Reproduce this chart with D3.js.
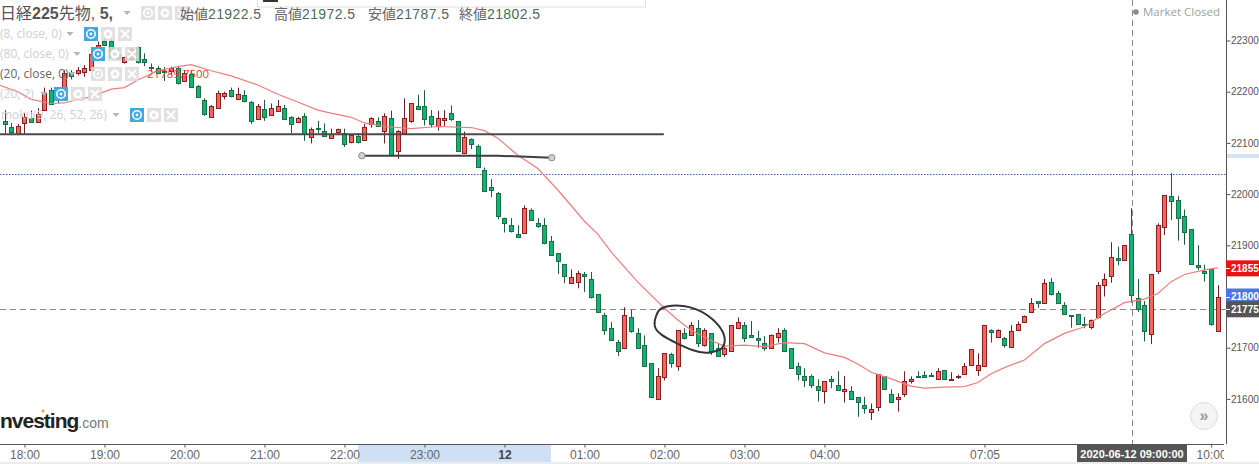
<!DOCTYPE html>
<html>
<head>
<meta charset="utf-8">
<script src="https://cdn.jsdelivr.net/npm/d3@7"></script>
<style>
  html, body { margin: 0; padding: 0; background: #fff; overflow: hidden; }
</style>
</head>
<body>
<div id="chart"></div>
<script>
// OHLC of the 5 minute bars. Bar 0 is the leftmost one.
const opens = [
  22143,22132,22117,22138,22148,22141,22164,22203,22188,22208,
  22238,22236,22238,22241,22275,22300,22300,22274,22257,22263,
  22287,22263,22249,22246,22241,22241,22247,22221,22234,22212,
  22183,22151,22168,22192,22203,22186,22193,22180,22147,22167,
  22155,22164,22169,22151,22141,22152,22113,22130,22123,22111,
  22123,22119,22101,22113,22107,22136,22142,22123,22148,22084,
  22119,22142,22173,22173,22152,22132,22145,22158,22142,22080,
  22107,22093,22048,22013,22003,21953,21939,21923,21923,21968,
  21943,21939,21908,21884,21863,21828,21828,21843,21834,21804,
  21763,21738,21711,21699,21759,21728,21705,21670,21599,21642,
  21687,21664,21728,21724,21738,21705,21728,21699,21687,21693,
  21738,21744,21724,21718,21709,21699,21720,21734,21699,21664,
  21644,21644,21625,21615,21639,21628,21615,21615,21603,21589,
  21574,21584,21644,21609,21599,21609,21636,21644,21646,21646,
  21638,21656,21636,21642,21648,21666,21656,21664,21735,21720,
  21718,21701,21734,21750,21769,21791,21787,21828,21806,21783,
  21763,21765,21746,21742,21759,21822,21841,21876,21871,21922.5,
  21798,21783,21726,21849,21935,21996,21988,21957,21931,21861,
  21849,21853,21734
];
const highs = [
  22164,22139,22137,22158,22163,22168,22208,22208,22203,22242,
  22242,22248,22252,22275,22298,22304,22302,22285,22268,22286,
  22288,22275,22255,22250,22248,22249,22249,22242,22242,22213,
  22187,22174,22202,22200,22208,22208,22203,22182,22176,22184,
  22177,22184,22174,22152,22151,22158,22130,22143,22138,22128,
  22128,22128,22117,22119,22137,22150,22150,22158,22163,22125,
  22187,22178,22194,22203,22164,22163,22164,22173,22142,22122,
  22109,22097,22052,22029,22004,21954,21953,21939,21978,21972,
  21953,21953,21918,21885,21863,21853,21850,21848,21848,21804,
  21768,21750,21715,21779,21774,21738,21724,21670,21660,21689,
  21690,21734,21738,21750,21754,21738,21728,21709,21725,21744,
  21759,21750,21752,21733,21723,21726,21738,21738,21699,21671,
  21660,21648,21638,21634,21645,21654,21645,21625,21603,21604,
  21591,21648,21644,21619,21611,21654,21644,21654,21654,21651,
  21660,21656,21652,21647,21670,21697,21689,21744,21736,21736,
  21721,21744,21751,21763,21797,21791,21834,21836,21811,21789,
  21763,21765,21760,21755,21828,21845,21906,21897,21900,21972.5,
  21834,21791,21843,21943,21998,22041,21996,21970,21931,21900,
  21862,21853,21822
];
const lows = [
  22119,22115,22115,22117,22141,22141,22162,22176,22178,22207,
  22224,22232,22229,22240,22272,22291,22267,22262,22255,22262,
  22255,22250,22239,22234,22221,22232,22214,22219,22208,22189,
  22153,22149,22166,22185,22189,22186,22179,22137,22145,22143,
  22154,22162,22146,22119,22139,22104,22099,22119,22112,22109,
  22115,22092,22099,22099,22104,22130,22132,22099,22074,22069,
  22117,22139,22168,22134,22130,22124,22133,22143,22082,22078,
  22088,22052,22007,21994,21951,21925,21925,21916,21922,21948,
  21934,21902,21880,21844,21826,21826,21816,21809,21796,21768,
  21725,21714,21684,21697,21729,21697,21663,21602,21598,21636,
  21661,21655,21716,21723,21701,21702,21686,21682,21682,21692,
  21737,21711,21720,21700,21694,21698,21710,21692,21659,21636,
  21623,21621,21595,21591,21621,21618,21593,21598,21565,21571,
  21559,21576,21618,21593,21575,21604,21630,21641,21643,21643,
  21637,21637,21636,21639,21647,21665,21645,21663,21710,21720,
  21700,21700,21733,21748,21768,21778,21786,21802,21786,21764,
  21739,21745,21738,21736,21757,21800,21827,21861,21870,21787.5,
  21770,21712,21707,21844,21920,21949,21909,21901,21862,21852,
  21829,21743,21733
];
const closes = [
  22137,22122,22133,22150,22141,22156,22197,22176,22199,22236,
  22231,22242,22246,22273,22292,22292,22268,22266,22267,22283,
  22258,22257,22247,22237,22240,22246,22218,22237,22208,22190,
  22156,22173,22197,22197,22192,22195,22182,22142,22173,22151,
  22168,22173,22147,22137,22149,22117,22128,22128,22113,22118,
  22128,22097,22115,22102,22132,22148,22132,22152,22076,22123,
  22148,22177,22168,22148,22136,22148,22148,22147,22084,22111,
  22097,22052,22007,22007,21958,21943,21927,21917,21972,21949,
  21938,21904,21880,21869,21839,21839,21845,21839,21798,21769,
  21734,21714,21693,21763,21732,21699,21664,21603,21644,21689,
  21670,21734,21718,21744,21709,21734,21693,21683,21699,21744,
  21750,21718,21720,21714,21700,21724,21728,21693,21660,21648,
  21636,21627,21617,21634,21636,21619,21619,21599,21593,21584,
  21580,21648,21619,21593,21603,21634,21639,21642,21643,21644,
  21654,21638,21638,21644,21664,21697,21666,21744,21732,21734,
  21705,21732,21746,21761,21787,21787,21826,21804,21787,21765,
  21761,21746,21744,21755,21822,21834,21878,21873,21900,21802.5,
  21777,21733,21843,21939,21998,21986,21953,21925,21863,21858,
  21845,21745,21800
];

// moving average (20, close), sampled along the line
const maBars = [-1,2,4,7,9,11,13,16,18,20,23,26,28,31,34,38,41,44,47,49,52,54,57,61,65,70,72,74,77,80,83,87,89,91,95,99,101,103,106,108,111,114,117,120,123,126,128,130,133,136,138,141,144,146,148,150,153,156,159,162,165,168,171,173,175,177,180,182];
const maValues = [22214,22200,22185,22177,22178,22185,22190,22205,22208,22223,22241,22249,22253,22241,22231,22213,22195,22180,22164,22158,22150,22139,22132,22128,22132,22130,22124,22109,22076,22050,22008,21947,21922,21887,21828,21777,21754,21734,21714,21703,21705,21702,21710,21708,21690,21681,21668,21652,21639,21625,21621,21623,21624,21632,21649,21661,21676,21708,21728,21741,21767,21788,21795,21806,21829,21843,21852,21856];

// axis ticks
const priceTicks = [22300, 22200, 22100, 22000, 21900, 21800, 21700, 21600];
const timeBars = [3, 15, 27, 39, 51, 63, 75, 87, 99, 111, 123, 147, 181];
const timeLabels = ["18:00","19:00","20:00","21:00","22:00","23:00","12","01:00","02:00","03:00","04:00","07:05","10:00"];

// hand drawn lines on the chart
const supportBars = [-1, 98.9];
const supportPrices = [22117, 22117];
const trendBars = [53.6, 73.9, 82.1];
const trendPrices = [22075, 22075, 22071];
const loopBars = [98.6,101.3,104.3,106.8,108,107.6,106.3,105.2,103.3,100.8,98.6,97.6,97.7];
const loopPrices = [21777,21782,21772,21748,21721,21699,21692,21690,21695,21709,21725,21740,21760];
const levelPrice = 22039;

// price tags and crosshair
const tagPrices = [21855, 21800, 21775];
const crossBar = 169;
const crossPrice = 21775;
const crossTime = "2020-06-12 09:00:00";

const width = 1259;
const height = 464;
const axisX = 1226;
const axisY = 444;
const sansFont = '"Liberation Sans", "Noto Sans CJK JP", Arial, sans-serif';
const uiFont = '"Open Sans", "Noto Sans", sans-serif';

const svg = d3.select("#chart")
  .append("svg")
  .attr("width", width)
  .attr("height", height)
  .style("display", "block")
  .style("background-color", "white");

const x = d3.scaleLinear().domain([0, 182]).range([4.5, 1217.8]);
const y = d3.scaleLinear().domain([21600, 22300]).range([398.9, 40.5]);

svg.append("defs").append("clipPath").attr("id", "plot")
  .append("rect").attr("width", axisX).attr("height", axisY);
svg.append("defs").append("clipPath").attr("id", "timeStrip")
  .append("rect").attr("y", axisY).attr("width", 1224).attr("height", 20);

// Faixa inferior e destaques dos eixos
svg.append("rect").attr("x", 0).attr("y", 462).attr("width", width).attr("height", 2).attr("fill", "#ececec");
svg.append("rect").attr("x", 358).attr("y", axisY).attr("width", 193).attr("height", 18).attr("fill", "#cfdff5");
svg.append("rect").attr("x", axisX).attr("y", 154).attr("width", width - axisX).attr("height", 4).attr("fill", "#d5e3f3");

const plot = svg.append("g").attr("clip-path", "url(#plot)");

// Eixo de preços
const yAxis = svg.append("g")
  .attr("transform", `translate(${axisX + 0.5},0)`)
  .call(d3.axisRight(y).tickValues(priceTicks).tickFormat(d3.format("d")).tickSize(4).tickPadding(0.5));
yAxis.select(".domain").attr("stroke", "#555").attr("d", `M0,0V${axisY}`);
yAxis.selectAll("line").attr("stroke", "#555");
yAxis.selectAll("text")
  .attr("fill", "#555")
  .style("font-family", sansFont)
  .style("font-size", "10px");

// Eixo de tempo
const xAxis = svg.append("g")
  .attr("clip-path", "url(#timeStrip)")
  .append("g")
  .attr("transform", `translate(0,${axisY + 0.5})`)
  .call(d3.axisBottom(x).tickValues(timeBars).tickFormat((d, i) => timeLabels[i]).tickSize(3).tickPadding(3));
xAxis.select(".domain").attr("stroke", "#555").attr("d", `M0,0H${axisX}`);
xAxis.selectAll("line").attr("stroke", "#555");
xAxis.selectAll("text")
  .attr("fill", d => d === 75 ? "#444" : "#666")
  .style("font-family", sansFont)
  .style("font-size", "12px")
  .style("font-weight", d => d === 75 ? "bold" : "normal");

// Linhas de nível
plot.append("line")
  .attr("x1", 0).attr("x2", axisX)
  .attr("y1", Math.round(y(levelPrice)) + 0.5).attr("y2", Math.round(y(levelPrice)) + 0.5)
  .attr("stroke", "#3b62a8").attr("stroke-dasharray", "1.5,1.5");
plot.append("line")
  .attr("x1", 0).attr("x2", axisX)
  .attr("y1", Math.round(y(crossPrice)) + 0.5).attr("y2", Math.round(y(crossPrice)) + 0.5)
  .attr("stroke", "#8a8a8a").attr("stroke-dasharray", "6,4");
plot.append("line")
  .attr("x1", Math.round(x(crossBar)) + 1.5).attr("x2", Math.round(x(crossBar)) + 1.5)
  .attr("y1", 0).attr("y2", axisY)
  .attr("stroke", "#8a8a8a").attr("stroke-dasharray", "6,4");

// Velas
const candles = d3.range(opens.length).map(i => ({
  i, open: opens[i], high: highs[i], low: lows[i], close: closes[i]
}));
const isUp = d => d.close > d.open;

plot.selectAll(".wick")
  .data(candles)
  .enter()
  .append("line")
  .attr("class", "wick")
  .attr("x1", d => Math.round(x(d.i)) + 0.5)
  .attr("x2", d => Math.round(x(d.i)) + 0.5)
  .attr("y1", d => y(d.high))
  .attr("y2", d => y(d.low))
  .attr("stroke", d => isUp(d) ? "#6e2020" : "#1c5c3e");

plot.selectAll(".body")
  .data(candles)
  .enter()
  .append("rect")
  .attr("class", "body")
  .attr("x", d => Math.round(x(d.i)) - 1.5)
  .attr("y", d => Math.round(y(Math.max(d.open, d.close))) + 0.5)
  .attr("width", 4)
  .attr("height", d => Math.max(1, Math.round(y(Math.min(d.open, d.close)) - y(Math.max(d.open, d.close)))))
  .attr("fill", d => isUp(d) ? "#f4665c" : "#0fb46e")
  .attr("stroke", d => isUp(d) ? "#8a1f22" : "#1a6e48");

// Média móvel
const lineByBar = d3.line().x(d => x(d[0])).y(d => y(d[1]));
plot.append("path")
  .datum(d3.zip(maBars, maValues))
  .attr("d", lineByBar)
  .attr("fill", "none")
  .attr("stroke", "#ee7d7d")
  .attr("stroke-width", 1.2);

// Desenhos à mão
plot.append("path")
  .datum(d3.zip(supportBars, supportPrices))
  .attr("d", lineByBar)
  .attr("fill", "none")
  .attr("stroke", "#4a4a4a")
  .attr("stroke-width", 2);
plot.append("path")
  .datum(d3.zip(trendBars, trendPrices))
  .attr("d", lineByBar)
  .attr("fill", "none")
  .attr("stroke", "#3f3f3f")
  .attr("stroke-width", 2);
plot.selectAll(".handle")
  .data([0, trendBars.length - 1])
  .enter()
  .append("circle")
  .attr("class", "handle")
  .attr("cx", d => x(trendBars[d]))
  .attr("cy", d => y(trendPrices[d]))
  .attr("r", 3.2)
  .attr("fill", "#d2d2d2")
  .attr("stroke", "#8c8c8c");
plot.append("path")
  .datum(d3.zip(loopBars, loopPrices))
  .attr("d", d3.line().x(d => x(d[0])).y(d => y(d[1])).curve(d3.curveCardinalClosed))
  .attr("fill", "none")
  .attr("stroke", "#33343a")
  .attr("stroke-width", 2);

// Ícones dos indicadores
function drawIcons(left, top, activeEye) {
  const size = 14;
  [0, 17, 34].forEach((dx, k) => {
    const g = svg.append("g").attr("transform", `translate(${left + dx},${top})`);
    const blue = k === 0 && activeEye;
    g.append("rect").attr("width", size).attr("height", size)
      .attr("fill", blue ? "#3fa9e0" : "#dcdcdc").attr("opacity", blue ? 1 : 0.85);
    if (k === 0) {
      g.append("circle").attr("cx", 7).attr("cy", 7).attr("r", 4.2)
        .attr("fill", "none").attr("stroke", "white").attr("stroke-width", 1.6);
      g.append("circle").attr("cx", 7).attr("cy", 7).attr("r", 1.4).attr("fill", "white");
    } else if (k === 1) {
      g.append("circle").attr("cx", 7).attr("cy", 7).attr("r", 3.2)
        .attr("fill", "none").attr("stroke", "white").attr("stroke-width", 2.6);
    } else {
      g.append("path").attr("d", "M3,3L11,11M11,3L3,11").attr("stroke", "white").attr("stroke-width", 2);
    }
  });
}

function drawCaret(cx, cy) {
  svg.append("path")
    .attr("d", `M${cx - 3.5},${cy - 2}L${cx + 3.5},${cy - 2}L${cx},${cy + 2}Z`)
    .attr("fill", "#b5b5b5");
}

// Etiquetas dos indicadores
const indicatorLabels = ["(8, close, 0)", "(80, close, 0)", "(20, close, 0)", "(20, 2)", "moku(9, 26, 52, 26)"];
const indicatorY = [38, 58, 78, 98, 119];
const indicatorColors = ["#cfcfcf", "#cfcfcf", "#666", "#cfcfcf", "#cfcfcf"];
const indicatorIconX = [84, 91, 91, 54, 130];
const indicatorCaretX = [70, 77, 72, 44, 116];
const indicatorEye = [true, true, false, true, true];

indicatorLabels.forEach((label, k) => {
  svg.append("text")
    .attr("x", k === 4 ? 1 : 0)
    .attr("y", indicatorY[k])
    .attr("fill", indicatorColors[k])
    .style("font-family", uiFont)
    .style("font-size", "12px")
    .text(label);
  drawCaret(indicatorCaretX[k], indicatorY[k] - 4);
  drawIcons(indicatorIconX[k], indicatorY[k] - 11, indicatorEye[k]);
});

svg.append("text")
  .attr("x", 147).attr("y", 78)
  .attr("fill", "#ee3b3b")
  .style("font-family", uiFont)
  .style("font-size", "11.5px")
  .text("21789.7500");

// Cabeçalho
svg.append("rect").attr("x", 257.5).attr("y", -2).attr("width", 388).attr("height", 9)
  .attr("fill", "white").attr("stroke", "#dedede");
svg.append("rect").attr("x", 263).attr("y", 0).attr("width", 15).attr("height", 2).attr("fill", "#333");

const title = svg.append("text")
  .attr("x", 0).attr("y", 19)
  .attr("fill", "#555")
  .style("font-family", sansFont)
  .style("font-size", "16px");
title.append("tspan").text("日経");
title.append("tspan").style("font-weight", "bold").text("225");
title.append("tspan").text("先物, ");
title.append("tspan").style("font-weight", "bold").text("5,");
drawCaret(127, 13);
drawIcons(141, 6, false);

const ohlcLabels = ["始値", "高値", "安値", "終値"];
const ohlcValues = ["21922.5", "21972.5", "21787.5", "21802.5"];
const ohlcX = [180, 274, 368, 459];
ohlcLabels.forEach((label, k) => {
  const t = svg.append("text")
    .attr("x", ohlcX[k]).attr("y", 19)
    .style("font-family", sansFont)
    .style("font-size", "14px");
  t.append("tspan").attr("fill", "#666").text(label);
  t.append("tspan").attr("fill", "#4f6a5c").style("letter-spacing", "0.4px").text(ohlcValues[k]);
});

// Market Closed
svg.append("circle").attr("cx", 1136).attr("cy", 12).attr("r", 2.8).attr("fill", "#8a8a8a");
svg.append("text")
  .attr("x", 1143).attr("y", 16)
  .attr("fill", "#a0a0a0")
  .style("font-family", uiFont)
  .style("font-size", "11.5px")
  .text("Market Closed");

// Logo
const logo = svg.append("text")
  .attr("x", 0).attr("y", 428)
  .style("font-family", sansFont);
logo.append("tspan").attr("fill", "#222").style("font-size", "21px").style("font-weight", "bold").style("letter-spacing", "-1px").text("nvesting");
logo.append("tspan").attr("fill", "#777").style("font-size", "14px").text(".com");
svg.append("circle").attr("cx", 43).attr("cy", 411).attr("r", 1.6).attr("fill", "#f2a81d");

// Botão de rolagem
svg.append("circle").attr("cx", 1204).attr("cy", 416).attr("r", 13.5).attr("fill", "#f4f4f4").attr("stroke", "#dcdcdc");
svg.append("text")
  .attr("x", 1204).attr("y", 421)
  .attr("text-anchor", "middle")
  .attr("fill", "#9a9a9a")
  .style("font-family", sansFont)
  .style("font-size", "16px")
  .style("font-weight", "bold")
  .text("»");

// Etiquetas de preço
const tagColors = ["#ee1111", "#4a78dc", "#555555"];
tagPrices.forEach((price, k) => {
  const cy = y(price);
  svg.append("rect")
    .attr("x", axisX).attr("y", cy - 8)
    .attr("width", width - axisX).attr("height", 16)
    .attr("fill", tagColors[k]);
  svg.append("line")
    .attr("x1", axisX).attr("x2", axisX + 4)
    .attr("y1", Math.round(cy) + 0.5).attr("y2", Math.round(cy) + 0.5)
    .attr("stroke", "white");
  svg.append("text")
    .attr("x", axisX + 5).attr("y", cy + 3.5)
    .attr("fill", "white")
    .style("font-family", sansFont)
    .style("font-size", "10px")
    .style("font-weight", "bold")
    .text(price);
});

// Etiqueta do cursor
svg.append("rect")
  .attr("x", 1077).attr("y", axisY + 1)
  .attr("width", 110).attr("height", 17)
  .attr("fill", "#555");
svg.append("text")
  .attr("x", 1132).attr("y", axisY + 14)
  .attr("text-anchor", "middle")
  .attr("fill", "white")
  .style("font-family", sansFont)
  .style("font-size", "11px")
  .style("font-weight", "bold")
  .text(crossTime);
</script>
</body>
</html>
